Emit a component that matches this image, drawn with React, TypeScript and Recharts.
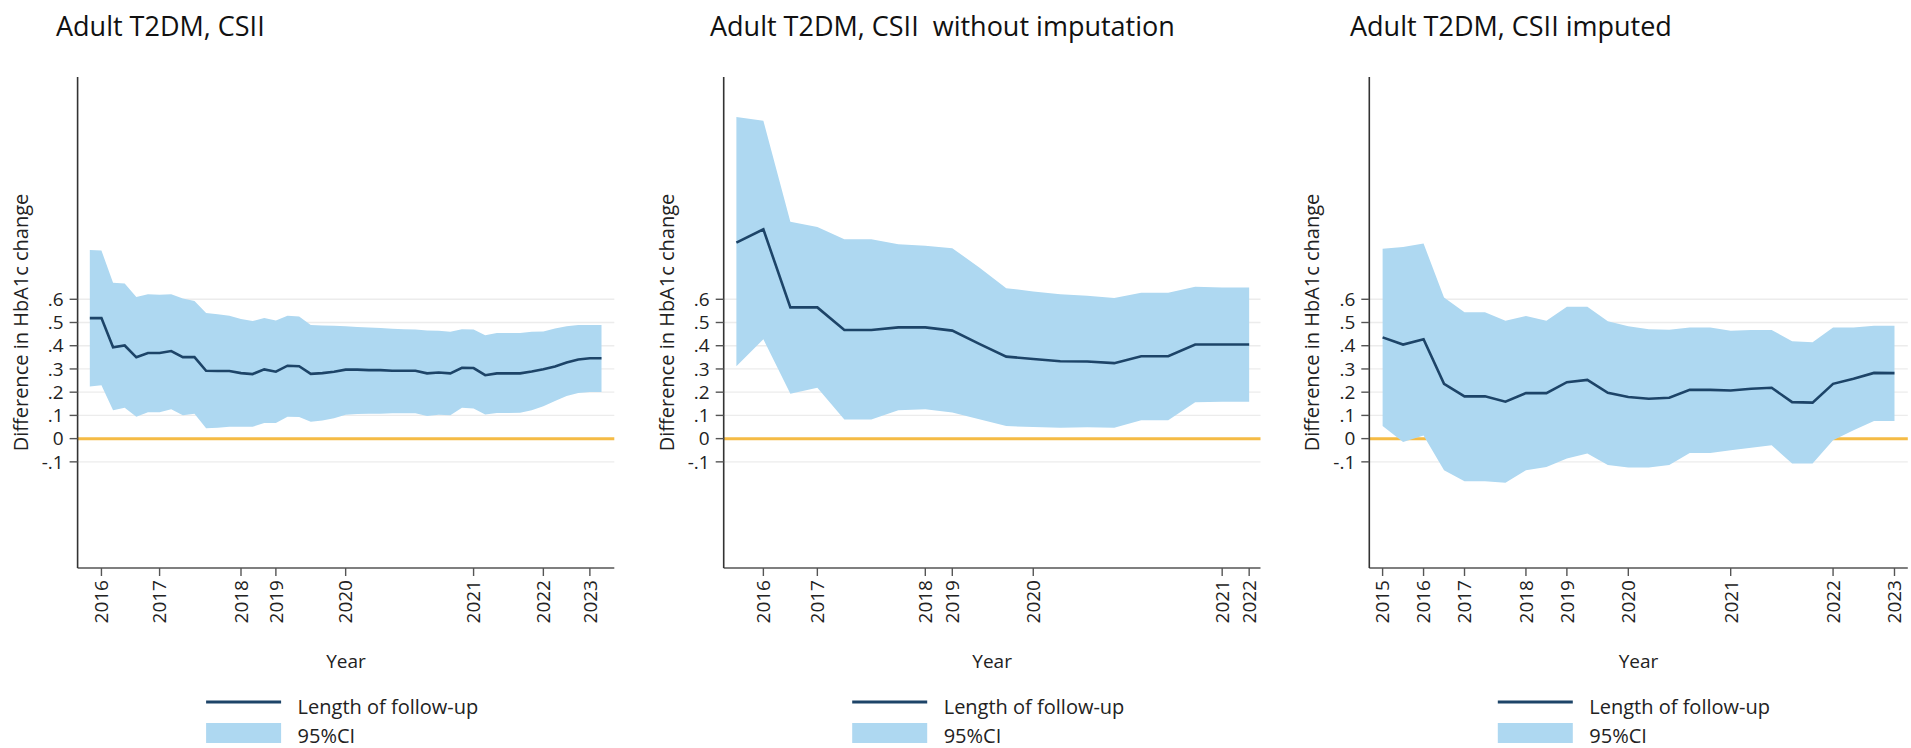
import { ComposedChart, Area, Line, XAxis, YAxis, ReferenceLine } from 'recharts';

// Panel 1: Adult T2DM, CSII
const P1_EST = [0.519, 0.519, 0.393, 0.401, 0.35, 0.369, 0.369, 0.377, 0.351, 0.351, 0.292, 0.291, 0.291, 0.282, 0.278, 0.298, 0.288, 0.314, 0.312, 0.279, 0.282, 0.288, 0.297, 0.297, 0.295, 0.295, 0.292, 0.292, 0.292, 0.281, 0.285, 0.281, 0.305, 0.304, 0.273, 0.281, 0.281, 0.281, 0.289, 0.299, 0.311, 0.328, 0.341, 0.346, 0.346];
const P1_HI = [0.812, 0.81, 0.671, 0.668, 0.61, 0.622, 0.62, 0.622, 0.603, 0.593, 0.541, 0.535, 0.529, 0.515, 0.506, 0.519, 0.509, 0.529, 0.526, 0.489, 0.487, 0.486, 0.484, 0.481, 0.479, 0.476, 0.473, 0.471, 0.47, 0.466, 0.464, 0.46, 0.471, 0.47, 0.445, 0.455, 0.455, 0.455, 0.46, 0.461, 0.474, 0.484, 0.489, 0.489, 0.489];
const P1_LO = [0.224, 0.23, 0.122, 0.133, 0.094, 0.114, 0.114, 0.126, 0.101, 0.107, 0.045, 0.047, 0.051, 0.051, 0.051, 0.067, 0.067, 0.094, 0.093, 0.073, 0.078, 0.088, 0.103, 0.106, 0.107, 0.107, 0.109, 0.109, 0.109, 0.097, 0.103, 0.101, 0.133, 0.13, 0.104, 0.11, 0.11, 0.111, 0.122, 0.139, 0.162, 0.184, 0.197, 0.201, 0.201];
const P1_TICK_AT = [1, 6, 13, 16, 22, 33, 39, 43];
const P1_YEARS = ['2016', '2017', '2018', '2019', '2020', '2021', '2022', '2023'];

// Panel 2: without imputation
const P2_EST = [0.844, 0.901, 0.565, 0.565, 0.468, 0.468, 0.479, 0.479, 0.465, 0.408, 0.353, 0.343, 0.333, 0.332, 0.325, 0.355, 0.355, 0.405, 0.405, 0.405];
const P2_HI = [1.385, 1.369, 0.934, 0.911, 0.858, 0.858, 0.837, 0.83, 0.82, 0.737, 0.648, 0.634, 0.622, 0.615, 0.605, 0.628, 0.628, 0.654, 0.651, 0.651];
const P2_LO = [0.312, 0.428, 0.193, 0.219, 0.082, 0.082, 0.122, 0.126, 0.112, 0.083, 0.054, 0.05, 0.047, 0.049, 0.047, 0.079, 0.079, 0.157, 0.159, 0.159];
const P2_TICK_AT = [1, 3, 7, 8, 11, 18, 19];
const P2_YEARS = ['2016', '2017', '2018', '2019', '2020', '2021', '2022'];

// Panel 3: imputed
const P3_EST = [0.436, 0.405, 0.428, 0.236, 0.182, 0.182, 0.159, 0.196, 0.196, 0.243, 0.253, 0.197, 0.179, 0.172, 0.176, 0.21, 0.21, 0.207, 0.215, 0.219, 0.157, 0.155, 0.236, 0.258, 0.283, 0.282];
const P3_HI = [0.818, 0.825, 0.84, 0.608, 0.544, 0.544, 0.508, 0.528, 0.508, 0.568, 0.568, 0.505, 0.484, 0.471, 0.469, 0.479, 0.479, 0.465, 0.468, 0.468, 0.419, 0.415, 0.479, 0.479, 0.486, 0.486];
const P3_LO = [0.054, -0.014, 0.014, -0.136, -0.183, -0.183, -0.19, -0.136, -0.122, -0.086, -0.064, -0.114, -0.124, -0.124, -0.114, -0.062, -0.062, -0.05, -0.039, -0.029, -0.107, -0.107, -0.007, 0.036, 0.076, 0.076];
const P3_TICK_AT = [0, 2, 4, 7, 9, 12, 17, 22, 25];
const P3_YEARS = ['2015', '2016', '2017', '2018', '2019', '2020', '2021', '2022', '2023'];

const Y_TICKS = [-0.1, 0, 0.1, 0.2, 0.3, 0.4, 0.5, 0.6];
const Y_DOMAIN: [number, number] = [-0.557, 1.557];

const FONT = '"Open Sans", "Noto Sans", sans-serif';
const LINE_COLOR = '#1d4468';
const CI_COLOR = '#aed8f1';
const ZERO_COLOR = '#f5bb45';
const GRID_COLOR = '#ececec';
const AXIS_COLOR = '#555';
const TEXT_COLOR = '#222';

const H = 748;
const PLOT_TOP = 77;
const AXIS_Y = 568;
const YAXIS_W = 60;
const XAXIS_H = 80;

const fmtY = (v: number) => {
  if (Math.abs(v) < 1e-9) return '0';
  return (v < 0 ? '-' : '') + '.' + Math.round(Math.abs(v) * 10);
};

type PanelProps = {
  title: string;
  est: number[];
  lo: number[];
  hi: number[];
  tickAt: number[];
  years: string[];
  xDomain: [number, number];
  left: number;
  width: number;
  plotLeft: number;
  plotRight: number;
  titleX: number;
};

function Panel(p: PanelProps) {
  const data = p.est.map((v, i) => ({ i, est: v, ci: [p.lo[i], p.hi[i]] }));
  const yearAt = (v: number) => p.years[p.tickAt.indexOf(v)] ?? '';

  const YearTick = (props: any) => {
    const { x, y, payload } = props;
    return (
      <text
        x={x}
        y={y}
        transform={`rotate(-90 ${x} ${y})`}
        textAnchor="end"
        dy="0.36em"
        fontSize={19}
        fill={TEXT_COLOR}
      >
        {yearAt(payload.value)}
      </text>
    );
  };

  const margin = {
    top: PLOT_TOP,
    bottom: H - AXIS_Y - XAXIS_H,
    left: p.plotLeft - p.left - YAXIS_W,
    right: p.left + p.width - p.plotRight,
  };

  const midX = (p.plotLeft + p.plotRight) / 2 - p.left;
  const lgX = p.plotLeft - p.left + 128.5;
  const ylX = p.plotLeft - p.left - 57;
  const ylY = (PLOT_TOP + AXIS_Y) / 2;

  return (
    <div style={{ position: 'absolute', left: p.left, top: 0, width: p.width, height: H }}>
      <ComposedChart width={p.width} height={H} data={data} margin={margin}>
        <XAxis
          dataKey="i"
          type="number"
          domain={p.xDomain}
          allowDataOverflow
          ticks={p.tickAt}
          interval={0}
          height={XAXIS_H}
          tickSize={8}
          tickMargin={4}
          tick={<YearTick />}
          axisLine={{ stroke: AXIS_COLOR, strokeWidth: 1.6 }}
          tickLine={{ stroke: AXIS_COLOR, strokeWidth: 1.4 }}
        />
        <YAxis
          type="number"
          domain={Y_DOMAIN}
          allowDataOverflow
          ticks={Y_TICKS}
          interval={0}
          width={YAXIS_W}
          tickSize={8}
          tickMargin={6}
          tickFormatter={fmtY}
          tick={{ fontSize: 19, fill: TEXT_COLOR }}
          axisLine={{ stroke: '#333', strokeWidth: 1.6 }}
          tickLine={{ stroke: AXIS_COLOR, strokeWidth: 1.4 }}
        />
        {/* light grid at the labelled values, under the band */}
        {Y_TICKS.filter((v) => v !== 0).map((v) => (
          <ReferenceLine key={v} y={v} stroke={GRID_COLOR} strokeWidth={1.3} zIndex={40} />
        ))}
        <ReferenceLine y={0} stroke={ZERO_COLOR} strokeWidth={3} zIndex={50} />
        <Area
          dataKey="ci"
          type="linear"
          fill={CI_COLOR}
          fillOpacity={1}
          stroke="none"
          isAnimationActive={false}
        />
        <Line
          dataKey="est"
          type="linear"
          stroke={LINE_COLOR}
          strokeWidth={2.6}
          dot={false}
          isAnimationActive={false}
        />
      </ComposedChart>

      <svg
        width={p.width}
        height={H}
        style={{ position: 'absolute', left: 0, top: 0, pointerEvents: 'none' }}
      >
        <text x={p.titleX - p.left} y={35.5} fontSize={27} fill="#111" style={{ whiteSpace: 'pre' }}>
          {p.title}
        </text>
        <text
          x={ylX}
          y={ylY}
          transform={`rotate(-90 ${ylX} ${ylY})`}
          textAnchor="middle"
          dy="0.36em"
          fontSize={20}
          fill={TEXT_COLOR}
        >
          Difference in HbA1c change
        </text>
        <text x={midX} y={668} textAnchor="middle" fontSize={19} fill={TEXT_COLOR}>
          Year
        </text>
        <line x1={lgX} x2={lgX + 75} y1={702} y2={702} stroke={LINE_COLOR} strokeWidth={3} />
        <text x={lgX + 91.5} y={713.5} fontSize={20} fill={TEXT_COLOR}>
          Length of follow-up
        </text>
        <rect x={lgX} y={723} width={75} height={20} fill={CI_COLOR} />
        <text x={lgX + 91.5} y={743} fontSize={20} fill={TEXT_COLOR}>
          95%CI
        </text>
      </svg>
    </div>
  );
}

export default function App() {
  return (
    <div
      style={{
        position: 'absolute',
        left: 0,
        top: 0,
        width: 1911,
        height: H,
        overflow: 'hidden',
        background: '#fff',
        fontFamily: FONT,
      }}
    >
      <Panel
        title="Adult T2DM, CSII"
        est={P1_EST}
        lo={P1_LO}
        hi={P1_HI}
        tickAt={P1_TICK_AT}
        years={P1_YEARS}
        xDomain={[-1.05, 45.1]}
        left={0}
        width={640}
        plotLeft={77.6}
        plotRight={614.3}
        titleX={56}
      />
      <Panel
        title="Adult T2DM, CSII  without imputation"
        est={P2_EST}
        lo={P2_LO}
        hi={P2_HI}
        tickAt={P2_TICK_AT}
        years={P2_YEARS}
        xDomain={[-0.47, 19.42]}
        left={646}
        width={640}
        plotLeft={723.7}
        plotRight={1260.5}
        titleX={710}
      />
      <Panel
        title="Adult T2DM, CSII imputed"
        est={P3_EST}
        lo={P3_LO}
        hi={P3_HI}
        tickAt={P3_TICK_AT}
        years={P3_YEARS}
        xDomain={[-0.65, 25.65]}
        left={1292}
        width={619}
        plotLeft={1369.3}
        plotRight={1907.8}
        titleX={1350}
      />
    </div>
  );
}
